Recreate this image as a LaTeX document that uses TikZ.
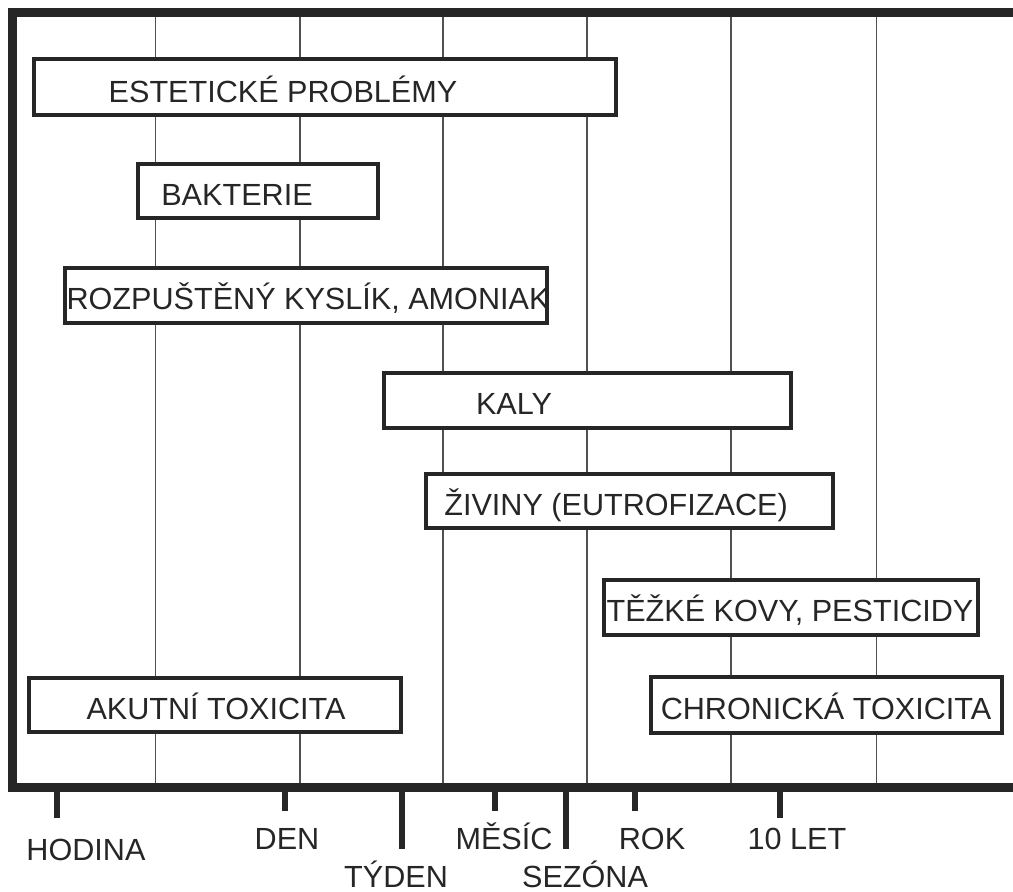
\documentclass[tikz,border=0pt]{standalone}
\usepackage{fontspec}
\setmainfont{Liberation Sans}
\definecolor{ink}{HTML}{262626}
\tikzset{
  frame/.style={draw=ink, line width=9pt, line join=miter},
  gridline/.style={draw=ink!80, line width=1.5pt},
  tickmark/.style={draw=ink, line width=6.5pt},
  box/.style={draw=ink, line width=4pt, fill=white, inner sep=0pt},
  txt/.style={anchor=base, inner sep=0pt, text=ink, font=\fontsize{30.6}{36}\selectfont},
}
\begin{document}
\begin{tikzpicture}[x=1pt, y=-1pt]
  \useasboundingbox (0,0) rectangle (1013,892);
  \fill[white] (0,0) rectangle (1013,892);

  \foreach \gx in {155.5,300,443,587,731,876.5}
    \draw[gridline] (\gx,17) -- (\gx,783);
  \draw[frame] (1013,12.4) -- (12,12.4) -- (12,787.5) -- (1013,787.5);

  \node[box, minimum width=582pt, minimum height=56pt] (estet) at (325,87) {};
  \node[txt] (estet-t) at (283,102) {ESTETICKÉ PROBLÉMY};
  \node[box, minimum width=240pt, minimum height=54pt] (bakt) at (258,191) {};
  \node[txt] (bakt-t) at (237,205) {BAKTERIE};
  \node[box, minimum width=482pt, minimum height=55pt] (kysl) at (306,295.5) {};
  \node[txt] (kysl-t) at (308,309) {ROZPUŠTĚNÝ KYSLÍK, AMONIAK};
  \node[box, minimum width=407pt, minimum height=55pt] (kaly) at (587.5,400.5) {};
  \node[txt] (kaly-t) at (514,414) {KALY};
  \node[box, minimum width=407pt, minimum height=54pt] (ziv) at (629.5,501) {};
  \node[txt] (ziv-t) at (616,515) {ŽIVINY (EUTROFIZACE)};
  \node[box, minimum width=374pt, minimum height=55pt] (kovy) at (791,607.5) {};
  \node[txt] (kovy-t) at (790,621) {TĚŽKÉ KOVY, PESTICIDY};
  \node[box, minimum width=351pt, minimum height=56pt] (chron) at (826.5,705) {};
  \node[txt] (chron-t) at (826,719) {CHRONICKÁ TOXICITA};
  \node[box, minimum width=372pt, minimum height=54pt] (akut) at (215,705) {};
  \node[txt] (akut-t) at (216,719) {AKUTNÍ TOXICITA};

  \coordinate (hodina) at (57,792);
  \coordinate (den) at (285,792);
  \coordinate (tyden) at (402,792);
  \coordinate (mesic) at (495,792);
  \coordinate (sezona) at (566,792);
  \coordinate (rok) at (635,792);
  \coordinate (let) at (780,792);
  \draw[tickmark] (hodina) -- ++(0,26);
  \draw[tickmark] (den) -- ++(0,19);
  \draw[tickmark] (tyden) -- ++(0,57);
  \draw[tickmark] (mesic) -- ++(0,19);
  \draw[tickmark] (sezona) -- ++(0,57);
  \draw[tickmark] (rok) -- ++(0,19);
  \draw[tickmark] (let) -- ++(0,26);

  \node[txt] (hodina-t) at (86,860) {HODINA};
  \node[txt] (den-t) at (287,849) {DEN};
  \node[txt] (tyden-t) at (396,887) {TÝDEN};
  \node[txt] (mesic-t) at (504,849) {MĚSÍC};
  \node[txt] (sezona-t) at (585,887) {SEZÓNA};
  \node[txt] (rok-t) at (652,849) {ROK};
  \node[txt] (let-t) at (797,849) {10 LET};
\end{tikzpicture}
\end{document}
